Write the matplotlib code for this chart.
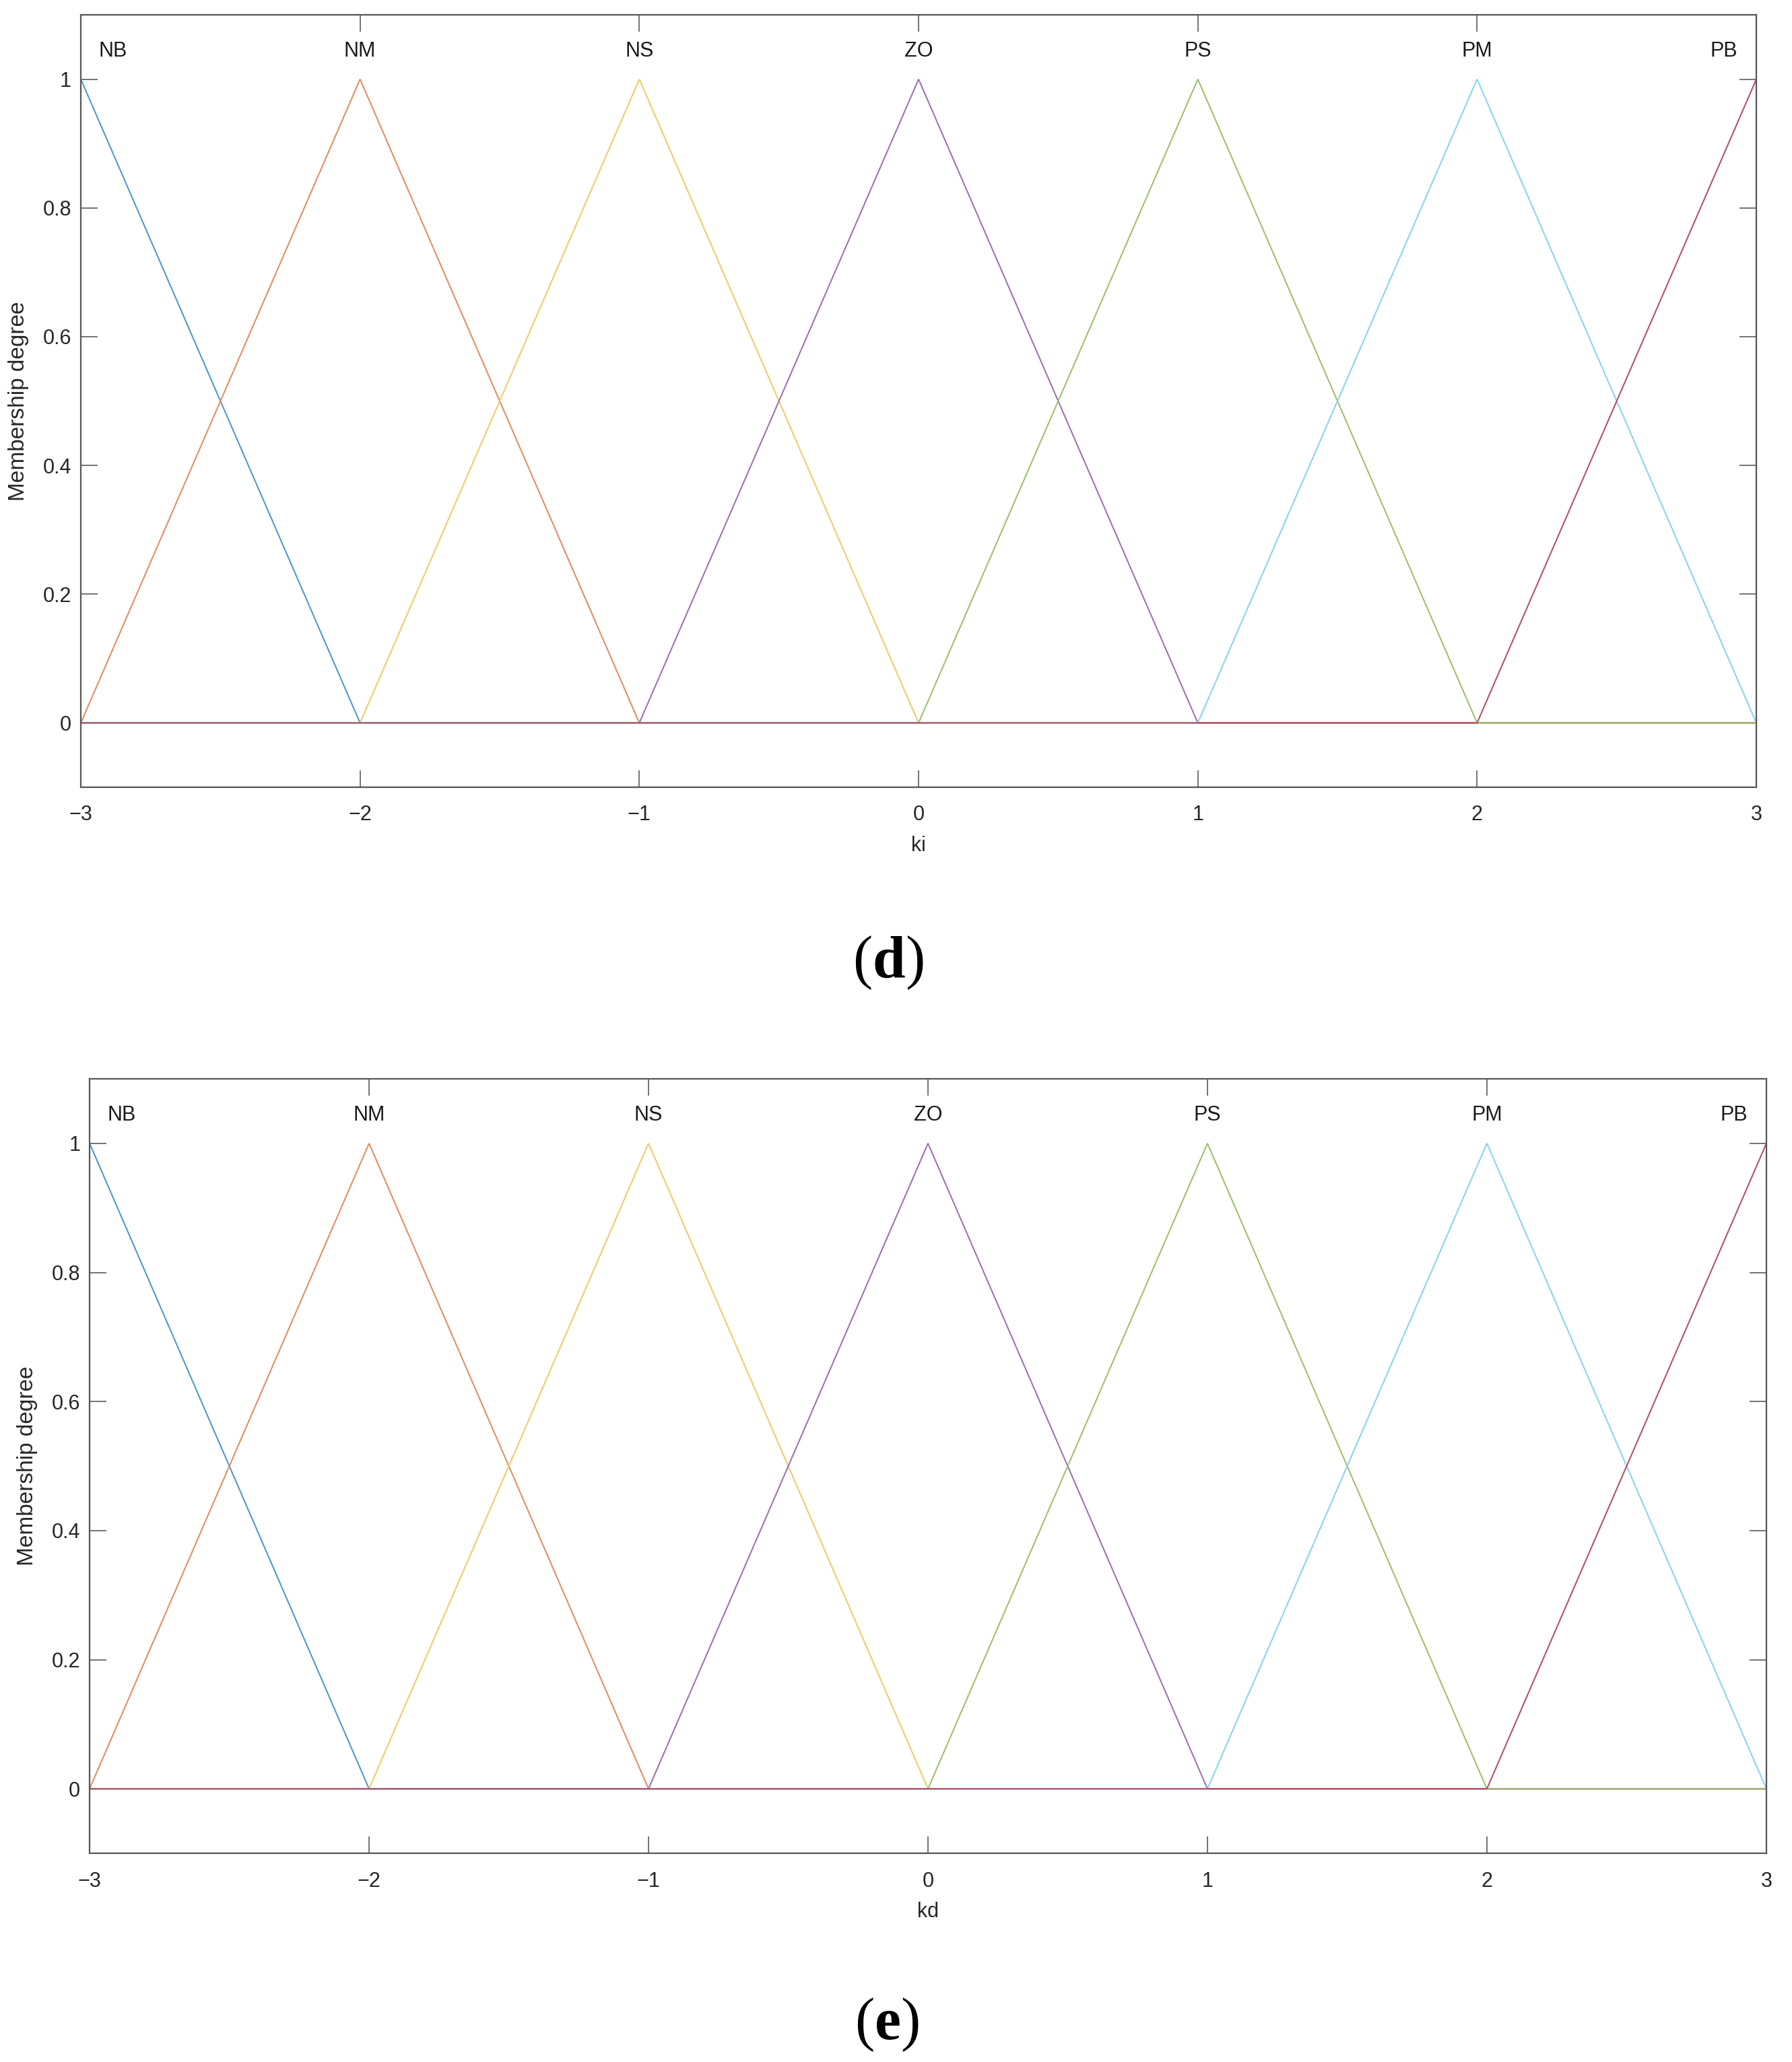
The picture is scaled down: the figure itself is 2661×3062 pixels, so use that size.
import numpy as np
import matplotlib.pyplot as plt
from matplotlib.ticker import FuncFormatter
from matplotlib.offsetbox import TextArea, HPacker, AnnotationBbox

plt.rcParams['font.family'] = ['Liberation Sans', 'DejaVu Sans']

# universe points and membership values of the 7 triangular MFs
x_pts = [-3, -2, -1, 0, 1, 2, 3]
mf_names = ['NB', 'NM', 'NS', 'ZO', 'PS', 'PM', 'PB']
mf_peaks = [-3, -2, -1, 0, 1, 2, 3]
mf_values = [
    [1, 0, 0, 0, 0, 0, 0],
    [0, 1, 0, 0, 0, 0, 0],
    [0, 0, 1, 0, 0, 0, 0],
    [0, 0, 0, 1, 0, 0, 0],
    [0, 0, 0, 0, 1, 0, 0],
    [0, 0, 0, 0, 0, 1, 0],
    [0, 0, 0, 0, 0, 0, 1],
]
mf_colors = ['#4f9acb', '#df9068', '#edcd6c', '#9f74ac', '#a1c06e', '#8ed3ec', '#b3536a']

x_ticks = [-3, -2, -1, 0, 1, 2, 3]
y_ticks = [0, 0.2, 0.4, 0.6, 0.8, 1]

panels = [
    # (variable name, panel letter, axes rect, label position)
    ('ki', 'd', [0.0451, 0.6182, 0.9350, 0.3746], (0.496, 0.5330)),
    ('kd', 'e', [0.0500, 0.1012, 0.9357, 0.3756], (0.4953, 0.0180)),
]

serif = ['Liberation Serif', 'DejaVu Serif']

fig = plt.figure(figsize=(26.61, 30.62), dpi=100)

for var, letter, rect, tagpos in panels:
    ax = fig.add_axes(rect)
    for vals, col in zip(mf_values, mf_colors):
        ax.plot(x_pts, vals, color=col, lw=1.5, solid_joinstyle='miter')

    ax.set_xlim(-3, 3)
    ax.set_ylim(-0.1, 1.1)
    ax.set_xticks(x_ticks)
    ax.set_yticks(y_ticks)
    ax.yaxis.set_major_formatter(FuncFormatter(lambda v, p: '%g' % v))
    ax.xaxis.set_major_formatter(FuncFormatter(lambda v, p: ('%g' % v).replace('-', '\u2212')))

    ax.tick_params(direction='in', length=18, width=1.1, color='#4d4d4d',
                   labelsize=22, labelcolor='#262626',
                   top=True, right=True)
    ax.tick_params(axis='x', pad=19)
    ax.tick_params(axis='y', pad=10)
    for sp in ax.spines.values():
        sp.set_color('#555555')
        sp.set_linewidth(1.6)

    ax.set_xlabel(var, fontsize=22, color='#262626', labelpad=11)
    ax.set_ylabel('Membership degree', fontsize=24, color='#262626')
    ax.yaxis.set_label_coords(-0.031, 0.5)

    # MF names over the peaks
    for i, (name, pk) in enumerate(zip(mf_names, mf_peaks)):
        if i == 0:
            ax.annotate(name, (pk, 1.035), xytext=(19, 0), textcoords='offset points',
                        ha='left', va='baseline', fontsize=22, color='#1a1a1a')
        elif i == len(mf_names) - 1:
            ax.annotate(name, (pk, 1.035), xytext=(-20, 0), textcoords='offset points',
                        ha='right', va='baseline', fontsize=22, color='#1a1a1a')
        else:
            ax.text(pk, 1.035, name, ha='center', va='baseline', fontsize=22, color='#1a1a1a')

    # panel tag: regular parentheses, bold letter
    parts = [
        TextArea('(', textprops=dict(fontsize=63, family=serif)),
        TextArea(letter, textprops=dict(fontsize=63, family=serif, weight='bold')),
        TextArea(')', textprops=dict(fontsize=63, family=serif)),
    ]
    box = HPacker(children=parts, align='baseline', pad=0, sep=0)
    ab = AnnotationBbox(box, tagpos, xycoords='figure fraction', frameon=False,
                        box_alignment=(0.5, 0.5))
    fig.add_artist(ab)

fig.savefig('out.png', dpi=100, facecolor='white')
